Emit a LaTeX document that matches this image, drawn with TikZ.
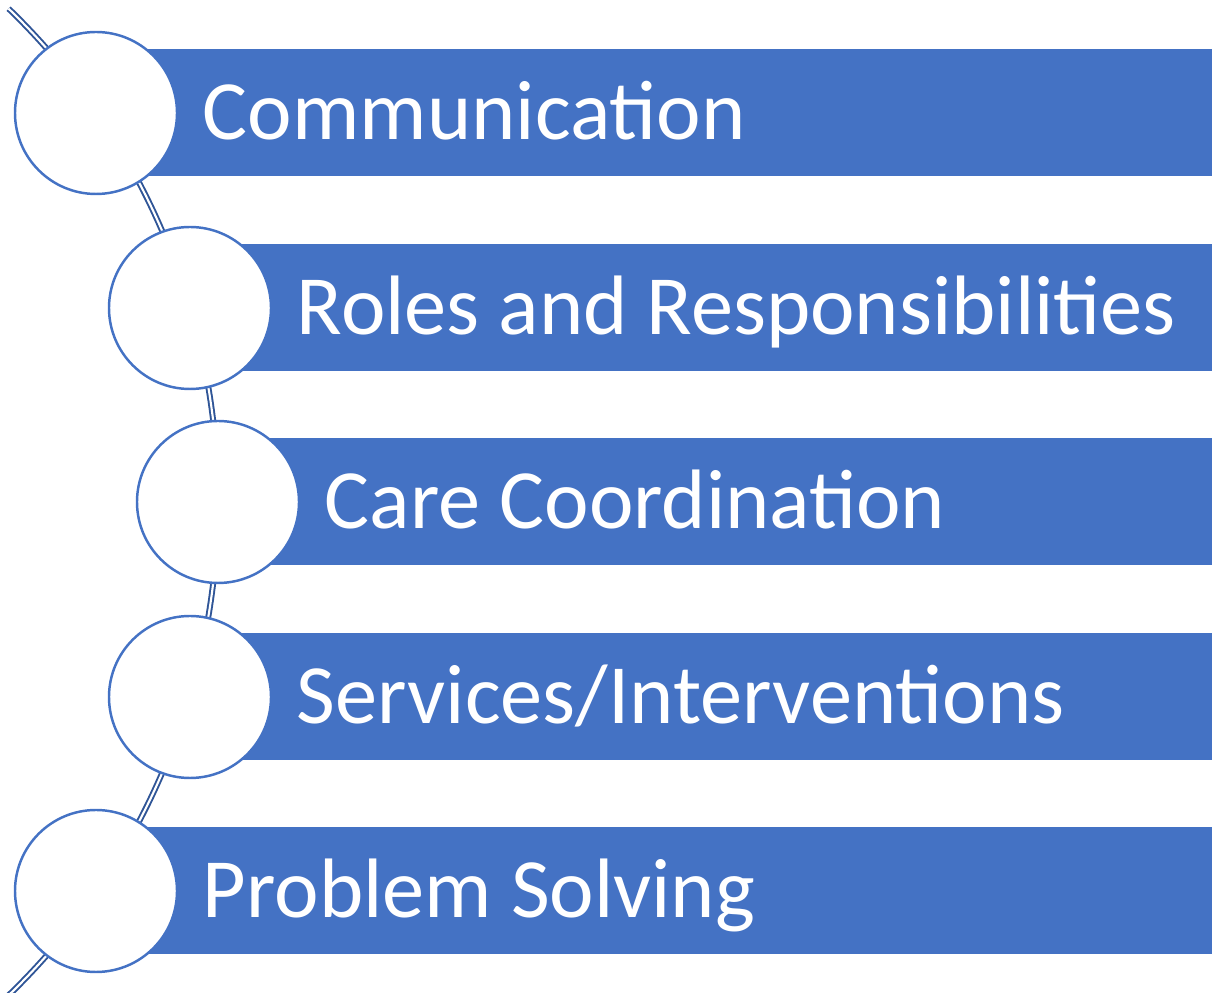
\documentclass[tikz,border=0pt]{standalone}
\usepackage{fontspec}
\setmainfont{Carlito}
\definecolor{barblue}{HTML}{4472C4}
\definecolor{spineblue}{HTML}{2F5597}
\tikzset{
  bar/.style={fill=barblue,draw=none,inner sep=0pt,anchor=west,minimum height=1.27cm},
  bead/.style={circle,fill=white,draw=barblue,line width=0.7pt,minimum size=1.62cm,inner sep=0pt},
  itemtext/.style={anchor=base west,inner sep=0pt,text=white,font=\fontsize{24}{28}\selectfont},
  spine/.style={draw=spineblue,line width=0.55pt,double=white,double distance=0.6pt}
}
\begin{document}
\begin{tikzpicture}
\useasboundingbox (0,0) rectangle (12.12,9.93);

% the arc that strings the beads together
\coordinate (hub) at (-4.678,4.91);
\draw[spine] (hub) ++(-46:6.858) arc[start angle=-46,end angle=46,radius=6.858];

\foreach \i/\x/\y/\txt in {1/0.96/8.80/Communication,2/1.90/6.85/Roles and Responsibilities,3/2.18/4.91/Care Coordination,4/1.90/2.96/{Services/Interventions},5/0.96/1.02/Problem Solving}
{
\node[bar,minimum width={(12.12-\x)*1cm}] (bar\i) at (\x,\y) {};
\node[bead] (bead\i) at (\x,\y) {};
\node[itemtext] (txt\i) at ([xshift=0.24cm,yshift=-0.265cm]bead\i.east) {\txt};
}
\end{tikzpicture}
\end{document}
